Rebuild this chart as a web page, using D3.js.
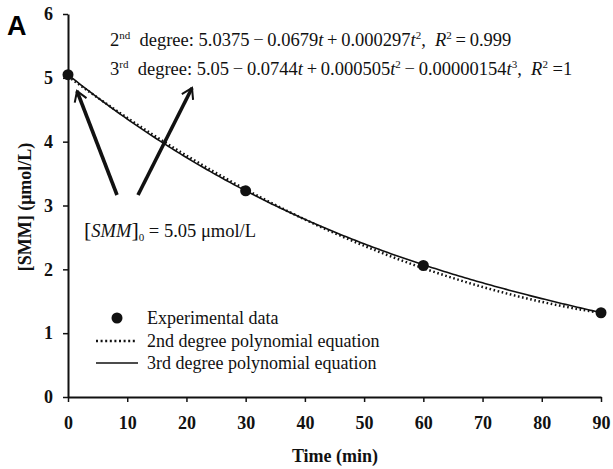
<!DOCTYPE html>
<html>
<head>
<meta charset="utf-8">
<script src="https://cdn.jsdelivr.net/npm/d3@7"></script>
<style>
  html, body { margin: 0; padding: 0; background: #fff; }
  svg { display: block; }
  .serif { font-family: "Liberation Serif", "Times New Roman", serif; }
</style>
</head>
<body>
<svg id="chart" width="613" height="469"></svg>
<script>
// Measured SMM concentration over time
const timeMin = [0, 30, 60, 90];
const smmConc = [5.05, 3.23, 2.06, 1.32];

// Fitted polynomial coefficients (constant term first)
const coef2nd = [5.0375, -0.0679, 0.000297];
const coef3rd = [5.05, -0.0744, 0.000505, -0.00000154];

// Axis ticks
const xTicks = [0, 10, 20, 30, 40, 50, 60, 70, 80, 90];
const yTicks = [0, 1, 2, 3, 4, 5, 6];

const svg = d3.select("#chart");
const x = d3.scaleLinear().domain([0, 90]).range([68, 601]);
const y = d3.scaleLinear().domain([0, 6]).range([397, 14]);

const poly = c => t => c.reduce((s, a, i) => s + a * Math.pow(t, i), 0);
const tGrid = d3.range(0, 90.01, 0.5);

// Axes
const xAxis = svg.append("g").attr("transform", `translate(0,${y(0)})`)
  .call(d3.axisBottom(x).tickValues(xTicks).tickFormat(d3.format("d"))
    .tickSize(5).tickSizeOuter(0).tickPadding(14));
const yAxis = svg.append("g").attr("transform", `translate(${x(0)},0)`)
  .call(d3.axisLeft(y).tickValues(yTicks).tickFormat(d3.format("d"))
    .tickSize(5).tickSizeOuter(0).tickPadding(10));
[xAxis, yAxis].forEach(g => {
  g.select(".domain").attr("stroke", "#111").attr("stroke-width", 2);
  g.selectAll(".tick line").attr("stroke", "#111").attr("stroke-width", 1.5);
  g.selectAll(".tick text")
    .attr("fill", "#111")
    .style("font-family", '"Liberation Serif", "Times New Roman", serif')
    .style("font-weight", "bold")
    .style("font-size", "18px");
});

// Fitted curves
const line = d3.line().x(d => x(d[0])).y(d => y(d[1]));
svg.append("path")
  .datum(tGrid.map(t => [t, poly(coef2nd)(t)]))
  .attr("d", line).attr("fill", "none")
  .attr("stroke", "#111").attr("stroke-width", 2.5)
  .attr("stroke-dasharray", "1.6,2.6")
  .attr("transform", "translate(0,1)");
svg.append("path")
  .datum(tGrid.map(t => [t, poly(coef3rd)(t)]))
  .attr("d", line).attr("fill", "none")
  .attr("stroke", "#111").attr("stroke-width", 1.6);

// Experimental points
svg.selectAll("circle.pt").data(timeMin).join("circle")
  .attr("class", "pt")
  .attr("cx", d => x(d))
  .attr("cy", (d, i) => y(smmConc[i]))
  .attr("r", 5.5).attr("fill", "#111");

// Arrows pointing to the initial concentration and to the equations
svg.append("defs").append("marker")
  .attr("id", "chev").attr("viewBox", "0 0 12 12")
  .attr("refX", 9).attr("refY", 6)
  .attr("markerWidth", 4.2).attr("markerHeight", 4.2)
  .attr("markerUnits", "strokeWidth")
  .attr("orient", "auto")
  .append("path").attr("d", "M1,1 L9,6 L1,11")
  .attr("fill", "none").attr("stroke", "#111").attr("stroke-width", 1.6)
  .attr("stroke-linejoin", "miter");
const arrows = [[117, 195, 77, 91], [138, 195, 192, 88]];
svg.selectAll("line.arrow").data(arrows).join("line")
  .attr("class", "arrow")
  .attr("x1", d => d[0]).attr("y1", d => d[1])
  .attr("x2", d => d[2]).attr("y2", d => d[3])
  .attr("stroke", "#111").attr("stroke-width", 3.6)
  .attr("marker-end", "url(#chev)");

// Equation annotations
const sup = (t, s) => {
  t.append("tspan").attr("dy", -7).style("font-size", "11px").text(s);
  return t;
};
const eq = svg.append("g").attr("class", "serif").style("font-size", "18.5px").attr("fill", "#111");
const t1 = eq.append("text").attr("x", 110).attr("y", 46);
t1.append("tspan").text("2");
sup(t1, "nd");
t1.append("tspan").attr("dy", 7).text("\u00a0 degree: 5.0375\u2009\u2212\u20090.0679");
t1.append("tspan").style("font-style", "italic").text("t");
t1.append("tspan").text("\u2009+\u20090.000297");
t1.append("tspan").style("font-style", "italic").text("t");
sup(t1, "2");
t1.append("tspan").attr("dy", 7).text(",\u00a0\u00a0");
t1.append("tspan").style("font-style", "italic").text("R");
sup(t1, "2");
t1.append("tspan").attr("dy", 7).text("\u2009=\u20090.999");

const t2 = eq.append("text").attr("x", 110).attr("y", 75);
t2.append("tspan").text("3");
sup(t2, "rd");
t2.append("tspan").attr("dy", 7).text("\u00a0 degree: 5.05\u2009\u2212\u20090.0744");
t2.append("tspan").style("font-style", "italic").text("t");
t2.append("tspan").text("\u2009+\u20090.000505");
t2.append("tspan").style("font-style", "italic").text("t");
sup(t2, "2");
t2.append("tspan").attr("dy", 7).text("\u2009\u2212\u20090.00000154");
t2.append("tspan").style("font-style", "italic").text("t");
sup(t2, "3");
t2.append("tspan").attr("dy", 7).text(",\u00a0\u00a0");
t2.append("tspan").style("font-style", "italic").text("R");
sup(t2, "2");
t2.append("tspan").attr("dy", 7).text("\u00a0=1");

// Initial concentration note
const t3 = eq.append("text").attr("x", 84).attr("y", 237);
t3.append("tspan").style("font-size", "22px").text("[");
t3.append("tspan").style("font-style", "italic").text("SMM");
t3.append("tspan").style("font-size", "22px").text("]");
t3.append("tspan").attr("dy", 4).style("font-size", "11px").text("0");
t3.append("tspan").attr("dy", -4).text(" = 5.05 \u03bcmol/L");

// Legend
const lg = svg.append("g").attr("class", "serif").style("font-size", "18px").attr("fill", "#111");
lg.append("circle").attr("cx", 117).attr("cy", 318).attr("r", 5.5).attr("fill", "#111");
lg.append("line").attr("x1", 96).attr("x2", 137).attr("y1", 341).attr("y2", 341)
  .attr("stroke", "#111").attr("stroke-width", 2.5).attr("stroke-dasharray", "2,2.6");
lg.append("line").attr("x1", 96).attr("x2", 138).attr("y1", 363).attr("y2", 363)
  .attr("stroke", "#111").attr("stroke-width", 1.6);
const legendLabels = ["Experimental data", "2nd degree polynomial equation", "3rd degree polynomial equation"];
lg.selectAll("text").data(legendLabels).join("text")
  .attr("x", 147).attr("y", (d, i) => 324 + i * 22.5).text(d => d);

// Axis titles
svg.append("text").attr("class", "serif")
  .attr("x", 335).attr("y", 462).attr("text-anchor", "middle")
  .style("font-size", "18px").style("font-weight", "bold").attr("fill", "#111")
  .text("Time (min)");
svg.append("text").attr("class", "serif")
  .attr("transform", "translate(31,207) rotate(-90)").attr("text-anchor", "middle")
  .style("font-size", "18px").style("font-weight", "bold").attr("fill", "#111")
  .text("[SMM] (\u03bcmol/L)");

// Panel letter
svg.append("text").attr("x", 7).attr("y", 35)
  .style("font-family", '"Liberation Sans", Arial, sans-serif')
  .style("font-size", "27px").style("font-weight", "bold").attr("fill", "#000")
  .text("A");
</script>
</body>
</html>
